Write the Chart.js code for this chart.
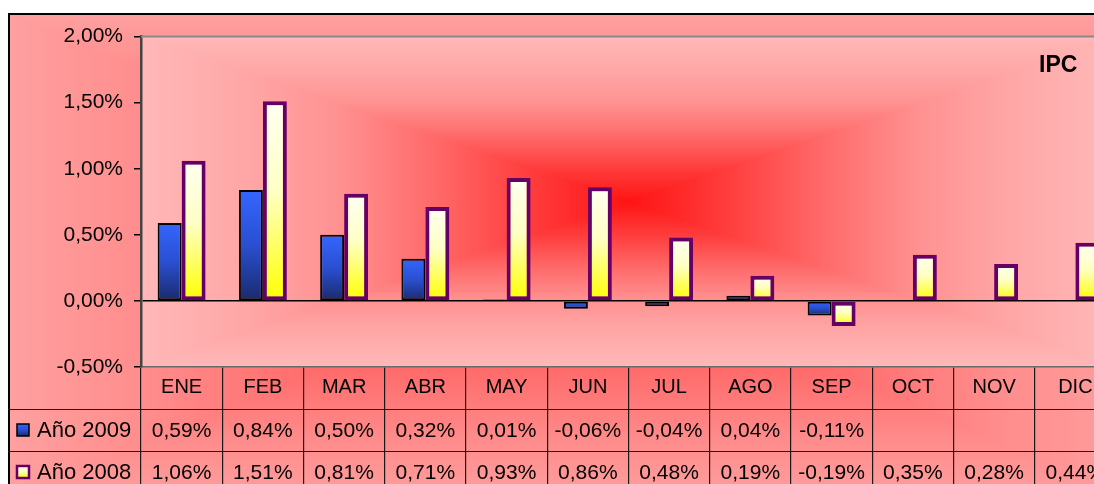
<!DOCTYPE html>
<html>
<head>
<meta charset="utf-8">
<style>
  html, body { margin: 0; padding: 0; background: #fff; overflow: hidden; width: 1094px; height: 484px; }
  #wrap { position: absolute; left: 8px; top: 13px; }
</style>
</head>
<body>
<div id="wrap"><canvas id="ipcChart" width="1130" height="490"></canvas></div>

<script src="https://cdn.jsdelivr.net/npm/chart.js"></script>
<script>
  // IPC mensual (%)
  const months = ['ENE', 'FEB', 'MAR', 'ABR', 'MAY', 'JUN', 'JUL', 'AGO', 'SEP', 'OCT', 'NOV', 'DIC'];
  const ipc2009 = [0.59, 0.84, 0.50, 0.32, 0.01, -0.06, -0.04, 0.04, -0.11, null, null, null];
  const ipc2008 = [1.06, 1.51, 0.81, 0.71, 0.93, 0.86, 0.48, 0.19, -0.19, 0.35, 0.28, 0.44];
  const seriesNames = ['Año 2009', 'Año 2008'];
  const yMin = -0.5, yMax = 2, yStep = 0.5;

  const FONT = "'Liberation Sans', Arial, sans-serif";
  Chart.defaults.font.family = FONT;
  Chart.defaults.color = '#000';

  const fmt = v => v.toFixed(2).replace('.', ',') + '%';

  const blueStops = [[0, '#3366ff'], [0.5, '#2a4fd0'], [1, '#1a2a6c']];
  const yellowStops = [[0, '#fffff2'], [0.45, '#ffffc4'], [1, '#ffff00']];
  const outerStops = [[0, '#ff3a3a'], [0.5, '#ff7070'], [0.75, '#ff8c8c'], [1, '#ffa0a0']];
  const plotStops = [[0, '#ff1414'], [0.2, '#ff3c3c'], [0.4, '#ff6a6a'], [0.6, '#ff9292'], [0.8, '#ffa8a8'], [1, '#ffb8b8']];

  // vertical gradient spanning each bar, top of bar -> bottom of bar
  function barFill(stops) {
    return ctx => {
      const chart = ctx.chart;
      const v = ctx.raw;
      if (!chart.chartArea || v == null || ctx.type !== 'data') return stops[0][1];
      const y = chart.scales.y;
      const y0 = y.getPixelForValue(Math.max(v, 0));
      const y1 = y.getPixelForValue(Math.min(v, 0));
      const g = chart.ctx.createLinearGradient(0, y0, 0, Math.max(y1, y0 + 1));
      stops.forEach(s => g.addColorStop(s[0], s[1]));
      return g;
    };
  }

  // Excel style "from center" rectangular gradient, built from 4 triangles
  function rectGradient(c, x0, y0, x1, y1, stops) {
    const cx = (x0 + x1) / 2, cy = (y0 + y1) / 2, e = 4;
    const parts = [
      [[cx, cy + e], [x0 - e, y0], [x1 + e, y0], cx, y0],
      [[cx, cy - e], [x0 - e, y1], [x1 + e, y1], cx, y1],
      [[cx, cy], [x0, y0], [x0, y1], x0, cy],
      [[cx, cy], [x1, y0], [x1, y1], x1, cy]
    ];
    c.save();
    c.beginPath();
    c.rect(x0, y0, x1 - x0, y1 - y0);
    c.clip();
    parts.forEach(p => {
      const g = c.createLinearGradient(cx, cy, p[3], p[4]);
      stops.forEach(s => g.addColorStop(s[0], s[1]));
      c.fillStyle = g;
      c.beginPath();
      c.moveTo(p[0][0], p[0][1]);
      c.lineTo(p[1][0], p[1][1]);
      c.lineTo(p[2][0], p[2][1]);
      c.closePath();
      c.fill();
    });
    c.restore();
  }

  function line(c, xa, ya, xb, yb) {
    c.beginPath();
    c.moveTo(xa, ya);
    c.lineTo(xb, yb);
    c.stroke();
  }

  const ROW_H = 42;

  const excelLook = {
    id: 'excelLook',
    beforeDraw(chart) {
      const c = chart.ctx, a = chart.chartArea;
      rectGradient(c, 0, 0, chart.width, chart.height, outerStops);
      rectGradient(c, a.left, a.top, a.right, a.bottom, plotStops);
    },
    afterDraw(chart) {
      const c = chart.ctx, a = chart.chartArea, xs = chart.scales.x;
      c.save();
      // plot area top border
      c.strokeStyle = '#8a8a8a';
      c.lineWidth = 2;
      line(c, a.left, a.top, a.right, a.top);
      // chart outer border
      c.strokeStyle = '#000';
      line(c, 0, 1, chart.width, 1);
      line(c, 1, 0, 1, chart.height);

      // data table rows
      c.strokeStyle = '#1a1a1a';
      c.lineWidth = 1.2;
      [1, 2].forEach(i => line(c, 0, a.bottom + ROW_H * i + 0.5, a.right, a.bottom + ROW_H * i + 0.5));

      const rows = [
        { name: seriesNames[0], data: ipc2009, stops: blueStops, border: '#000', bw: 1.5 },
        { name: seriesNames[1], data: ipc2008, stops: yellowStops, border: '#660066', bw: 2.5 }
      ];
      c.textBaseline = 'middle';
      c.fillStyle = '#000';
      rows.forEach((r, i) => {
        const cy = a.bottom + ROW_H * (i + 1) + ROW_H / 2;
        // legend key
        const kx = 9, ky = cy - 6, ks = 12;
        const g = c.createLinearGradient(0, ky, 0, ky + ks);
        r.stops.forEach(s => g.addColorStop(s[0], s[1]));
        c.fillStyle = g;
        c.fillRect(kx, ky, ks, ks);
        c.strokeStyle = r.border;
        c.lineWidth = r.bw;
        c.strokeRect(kx, ky, ks, ks);

        c.fillStyle = '#000';
        c.textAlign = 'left';
        c.font = '22px ' + FONT;
        c.fillText(r.name, 29, cy + 1);
        c.textAlign = 'center';
        c.font = '21px ' + FONT;
        r.data.forEach((v, j) => {
          if (v == null) return;
          c.fillText(fmt(v), xs.getPixelForValue(j), cy + 1);
        });
      });

      c.font = 'bold 23px ' + FONT;
      c.textAlign = 'left';
      c.fillText('IPC', a.right - 77, a.top + 29);
      c.restore();
    }
  };

  const ctx = document.getElementById('ipcChart').getContext('2d');
  new Chart(ctx, {
    type: 'bar',
    data: {
      labels: months,
      datasets: [
        {
          label: seriesNames[0],
          data: ipc2009,
          backgroundColor: barFill(blueStops),
          borderColor: '#000',
          borderWidth: 2,
          borderSkipped: false
        },
        {
          label: seriesNames[1],
          data: ipc2008,
          backgroundColor: barFill(yellowStops),
          borderColor: '#660066',
          borderWidth: 4,
          borderSkipped: false
        }
      ]
    },
    options: {
      responsive: false,
      animation: false,
      categoryPercentage: 0.59,
      barPercentage: 1,
      layout: { padding: { left: 0, top: 20, right: 22, bottom: 0 } },
      plugins: {
        legend: { display: false },
        tooltip: { enabled: false }
      },
      scales: {
        x: {
          offset: true,
          afterFit: s => { s.height = 136; },
          grid: {
            offset: true,
            drawOnChartArea: false,
            tickLength: 136,
            color: '#1a1a1a',
            lineWidth: 1.2
          },
          border: { color: '#6a6a6a', width: 1.5 },
          ticks: {
            autoSkip: false,
            maxRotation: 0,
            padding: -128,
            font: { size: 20 },
            color: '#000'
          }
        },
        y: {
          min: yMin,
          max: yMax,
          afterFit: s => { s.width = 133; },
          grid: {
            color: c => (c.tick && c.tick.value === 0 ? '#000' : 'rgba(0,0,0,0)'),
            tickColor: '#000',
            lineWidth: 1.5,
            tickLength: 7
          },
          border: { color: '#444', width: 2.5 },
          ticks: {
            stepSize: yStep,
            padding: 11,
            font: { size: 21 },
            color: '#000',
            callback: v => fmt(v)
          }
        }
      }
    },
    plugins: [excelLook]
  });
</script>
</body>
</html>
